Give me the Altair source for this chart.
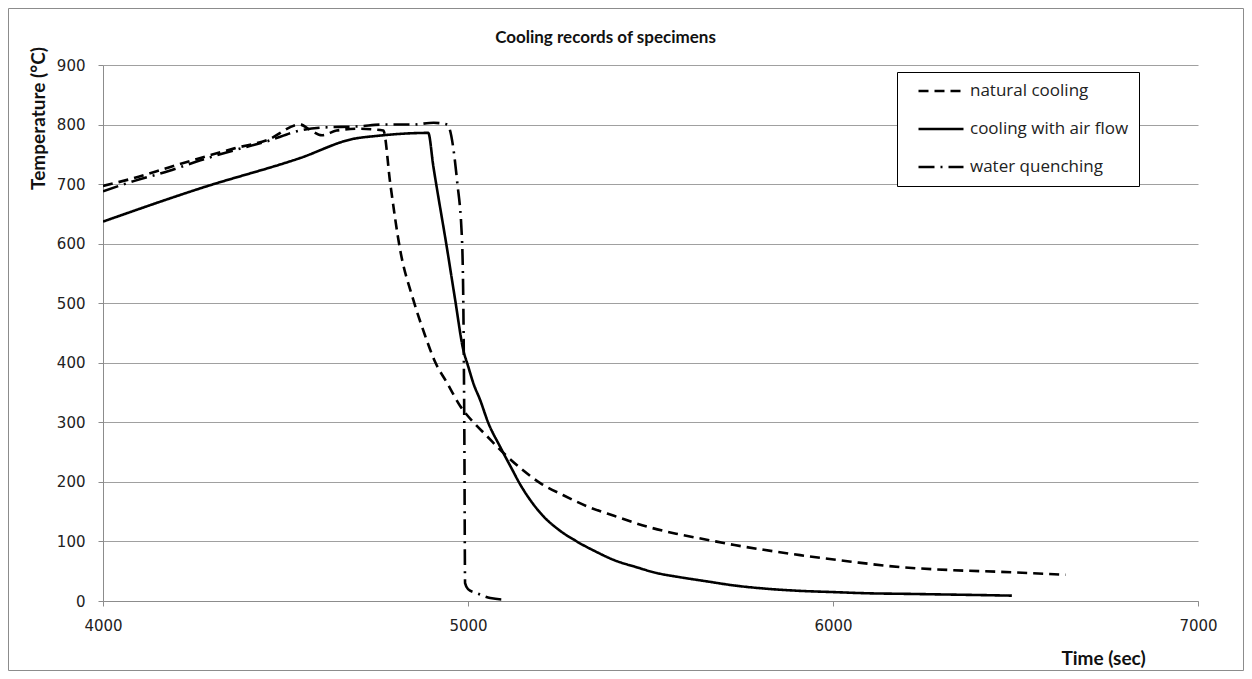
import altair as alt
import pandas as pd

# ---- data ----
series_names = ["natural cooling", "cooling with air flow", "water quenching"]

natural_t = [4000, 4084, 4180, 4267, 4360, 4450, 4540, 4570, 4600, 4640, 4700, 4768,
             4787, 4814, 4850, 4880, 4911, 4943, 4979, 5015, 5050, 5098, 5150, 5198,
             5260, 5326, 5400, 5490, 5570, 5654, 5730, 5810, 5910, 6050, 6183, 6320,
             6457, 6637]
natural_T = [697, 710, 728, 744, 760, 774, 800, 790, 782, 790, 793, 790,
             701, 590, 506, 450, 400, 366, 327, 300, 278, 248, 220, 198,
             178, 159, 143, 125, 113, 103, 94, 86, 77, 66, 57, 52,
             49, 44]

air_t = [4000, 4267, 4541, 4686, 4751, 4891, 4905, 4943, 4965, 4987, 5000, 5015,
         5033, 5055, 5088, 5120, 5139, 5170, 5207, 5250, 5298, 5350, 5399, 5460,
         5517, 5580, 5654, 5730, 5810, 5910, 6000, 6092, 6200, 6300, 6400, 6490]
air_T = [637, 693, 744, 776, 781, 786, 730, 590, 505, 422, 395, 365,
         338, 300, 259, 222, 200, 170, 142, 119, 100, 83, 69, 57,
         47, 40, 33, 26, 21, 17, 15, 13, 12, 11, 10, 9]

water_t = [4000, 4084, 4180, 4267, 4360, 4450, 4540, 4600, 4700, 4770, 4850, 4906,
           4943, 4970, 4984, 4988, 4990, 4992, 5000, 5025, 5061, 5107]
water_T = [688, 705, 722, 740, 757, 772, 790, 795, 797, 800, 800, 803,
           800, 706, 600, 450, 280, 30, 20, 13, 5, 2]

x_ticks = [4000, 5000, 6000, 7000]
y_ticks = [0, 100, 200, 300, 400, 500, 600, 700, 800, 900]

rows = []
for name, ts, Ts in zip(series_names,
                        [natural_t, air_t, water_t],
                        [natural_T, air_T, water_T]):
    for i, (t, T) in enumerate(zip(ts, Ts)):
        rows.append({"series": name, "time": t, "temp": T, "order": i})
df = pd.DataFrame(rows)

W, H = 1095, 536
PAD_L, PAD_T, PAD_R, PAD_B = 95, 57, 46, 70

lines = alt.Chart(df).mark_line(strokeWidth=2.6, color="black", clip=True,
                                interpolate="monotone").encode(
    x=alt.X("time:Q",
            scale=alt.Scale(domain=[4000, 7000], nice=False, zero=False),
            axis=alt.Axis(values=x_ticks, format="d", grid=False, labelFlush=False,
                          title="Time (sec)", titleX=1000, titleY=57,
                          titleAlign="center", titleBaseline="middle")),
    y=alt.Y("temp:Q",
            scale=alt.Scale(domain=[0, 900], nice=False),
            axis=alt.Axis(values=y_ticks, grid=True, labelFlush=False,
                          title="Temperature (°C)", titleX=-65, titleY=53,
                          titleAngle=270, titleAlign="center",
                          titleBaseline="middle")),
    strokeDash=alt.StrokeDash(
        "series:N",
        scale=alt.Scale(domain=series_names,
                        range=[[10, 6], [1, 0], [16, 6, 2, 6]]),
        legend=alt.Legend(title=None, orient="none", legendX=794, legendY=7,
                          strokeColor="black", fillColor="white",
                          padding=10, symbolOffset=10, labelOffset=5,
                          symbolType="stroke", symbolSize=2025,
                          symbolStrokeWidth=2.6, symbolStrokeColor="black",
                          clipHeight=18, rowPadding=20,
                          labelFont="Open Sans", labelFontSize=17,
                          labelColor="#222", labelLimit=300,
                          labelExpr="datum.label + '\u2002\u2002'")),
    order="order:Q",
    detail="series:N",
)

frame_df = pd.DataFrame({"k": [0]})
frame = alt.Chart(frame_df).mark_rect(filled=False, stroke="#8c8c8c",
                                      strokeWidth=1).encode(
    x=alt.value(-PAD_L + 0.5), x2=alt.value(W + PAD_R - 0.5),
    y=alt.value(-PAD_T + 0.5), y2=alt.value(H + PAD_B - 0.5),
)

title_df = pd.DataFrame({"text": ["Cooling records of specimens"]})
title = alt.Chart(title_df).mark_text(font="Lato", fontSize=17, fontWeight="bold",
                                      color="#111", align="center",
                                      baseline="middle").encode(
    text="text:N", x=alt.value(605 - 102.5), y=alt.value(38 - 65),
)

chart = alt.layer(frame, lines, title).properties(
    width=W, height=H,
    padding={"left": PAD_L, "top": PAD_T, "right": PAD_R, "bottom": PAD_B},
    autosize=alt.AutoSizeParams(type="none"),
    background="white",
).configure_view(stroke=None).configure_axis(
    domainColor="#8c8c8c", tickColor="#8c8c8c", tickSize=5,
    gridColor="#a0a0a0", gridWidth=1,
    labelFont="DejaVu Sans", labelFontSize=15, labelColor="#222",
    titleFont="Lato", titleFontSize=19, titleFontWeight="bold", titleColor="#111",
).configure_axisX(labelPadding=12).configure_axisY(labelPadding=13)

chart.save("out.html", embed_options={"renderer": "svg", "actions": False})
